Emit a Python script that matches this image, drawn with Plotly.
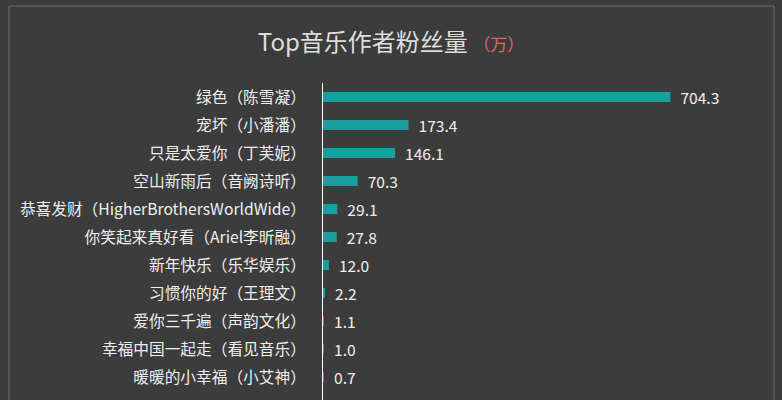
import plotly.graph_objects as go

# Top music authors by fans (unit: 万)
songs = ["绿色", "宠坏", "只是太爱你", "空山新雨后", "恭喜发财", "你笑起来真好看",
         "新年快乐", "习惯你的好", "爱你三千遍", "幸福中国一起走", "暖暖的小幸福", "六月的雨"]
artists = ["陈雪凝", "小潘潘", "丁芙妮", "音阙诗听", "HigherBrothersWorldWide", "Ariel李昕融",
           "乐华娱乐", "王理文", "声韵文化", "看见音乐", "小艾神", "黄霄雲"]
fans = [704.3, 173.4, 146.1, 70.3, 29.1, 27.8, 12.0, 2.2, 1.1, 1.0, 0.7, 0.5]

labels = [f"{s}（{a}）" for s, a in zip(songs, artists)]

bg = "#3c3c3c"
teal = "#19a09e"
txt = "#efefef"
font = "Noto Sans CJK SC"

W, H = 782, 400
ml, mr, mt, mb = 323, 20, 83, 0
pw, ph = W - ml - mr, H - mt - mb

def px_x(x):
    return (x - ml) / pw

def px_y(y):
    return (H - mb - y) / ph

fig = go.Figure()
fig.add_trace(go.Bar(
    x=fans, y=labels, orientation="h",
    marker_color=teal, marker_line_width=0,
    text=fans, texttemplate="\u00a0\u00a0%{x:.1f}", textposition="outside",
    constraintext="none",
    textfont=dict(family=font, size=15.6, color=txt),
    cliponaxis=False, showlegend=False,
))

fig.update_layout(
    width=W, height=H,
    margin=dict(l=ml, r=mr, t=mt, b=mb, pad=0),
    paper_bgcolor=bg, plot_bgcolor=bg,
    bargap=0.64,
    font=dict(family=font, color=txt),
    title=dict(
        text="Top音乐作者粉丝量 <span style='color:#e06868;font-size:17px'>（万）</span>",
        x=0.5, xref="container", xanchor="center",
        y=1 - 43 / H, yref="container", yanchor="middle",
        font=dict(family=font, size=24, color="#dedede"),
    ),
    shapes=[dict(type="rect", xref="paper", yref="paper",
                 x0=px_x(9), x1=px_x(774), y0=px_y(420), y1=px_y(6),
                 line=dict(color="#6c6c6c", width=1), fillcolor="rgba(0,0,0,0)",
                 layer="below")],
)
fig.update_xaxes(range=[0, 890], visible=False, showgrid=False, zeroline=False)
fig.update_yaxes(
    type="category", range=[len(labels) - 0.5 - (len(labels) * 28 - ph) / 28, -0.5],
    showline=True, linecolor="#ffffff", linewidth=1,
    showgrid=False, zeroline=False, ticks="",
    ticklabelstandoff=13,
    tickfont=dict(family=font, size=15.7, color=txt),
)

fig.write_html("out.html", config={"displayModeBar": False},
               post_script="document.body.style.margin='0';")
